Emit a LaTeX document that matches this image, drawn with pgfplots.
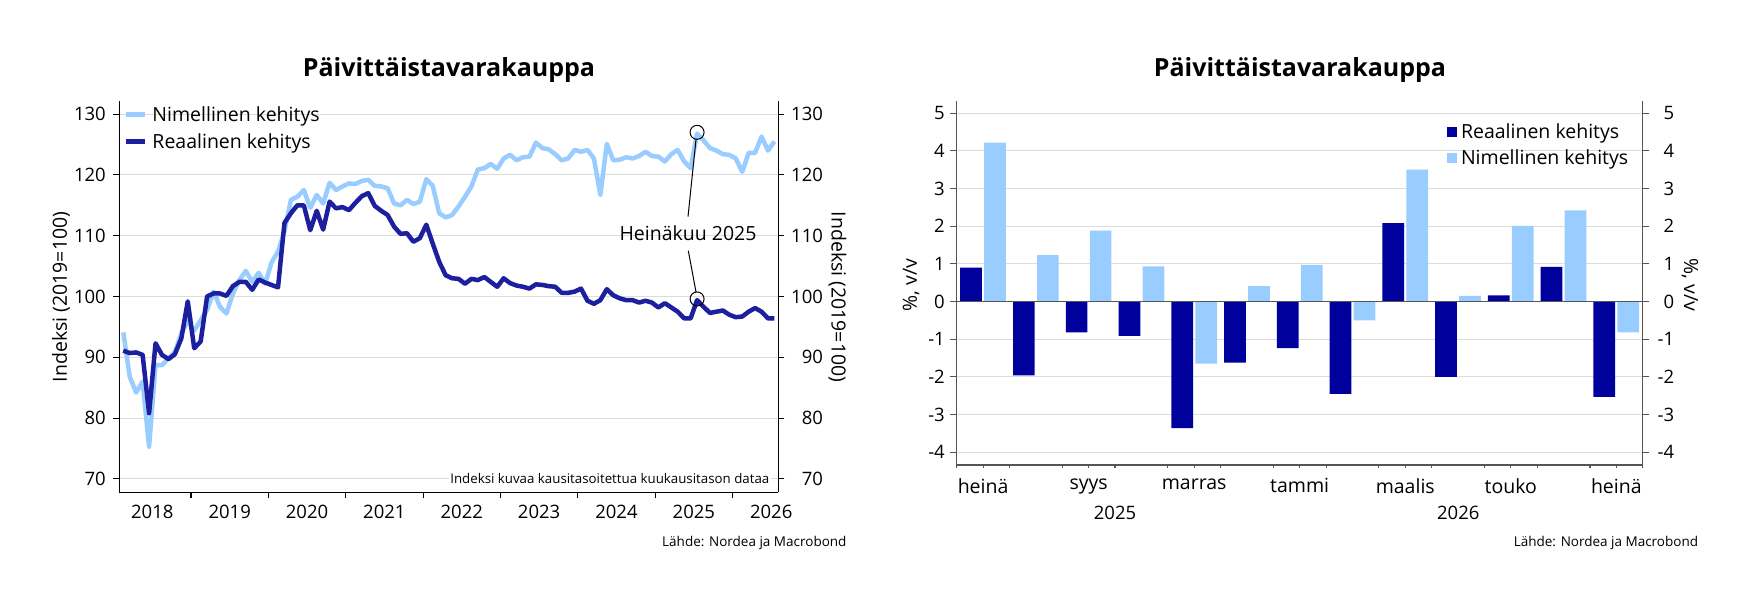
\documentclass[border=0pt]{standalone}
\usepackage{fontspec}
\setmainfont{Open Sans}
\usepackage{pgfplots}
\pgfplotsset{compat=1.18}
\usepackage{pgfplotstable}
\definecolor{nomblue}{HTML}{99CCFF}
\definecolor{realline}{HTML}{1C209E}
\definecolor{realbar}{HTML}{00009C}
\definecolor{gridgray}{HTML}{DCDCDC}
\definecolor{axisgray}{HTML}{555555}
\newcommand\tf{\fontsize{18.5bp}{22bp}\selectfont}
\newcommand\lf{\fontsize{19.5bp}{23bp}\selectfont}
\newcommand\srcf{\fontsize{13.5bp}{16bp}\selectfont}

\pgfplotstableread{
k nom real
0 94.1 91.1
1 86.8 90.7
2 84.2 90.8
3 86.0 90.4
4 75.3 80.8
5 88.7 92.3
6 88.7 90.4
7 89.8 89.7
8 90.9 90.5
9 93.9 93.1
10 96.0 99.2
11 94.4 91.5
12 96.1 92.6
13 97.8 100.0
14 100.8 100.5
15 98.3 100.5
16 97.2 100.1
17 100.5 101.7
18 102.7 102.4
19 104.2 102.4
20 102.4 101.1
21 103.9 102.8
22 102.1 102.3
23 105.6 101.9
24 107.4 101.5
25 110.7 112.1
26 115.9 113.7
27 116.4 115.0
28 117.5 115.0
29 114.6 110.9
30 116.7 114.1
31 115.3 111.0
32 118.7 115.6
33 117.5 114.5
34 118.1 114.7
35 118.6 114.2
36 118.5 115.4
37 119.0 116.5
38 119.2 117.0
39 118.2 114.9
40 118.1 114.1
41 117.8 113.4
42 115.3 111.5
43 115.0 110.3
44 115.9 110.4
45 115.2 109.0
46 115.6 109.6
47 119.3 111.8
48 118.2 108.7
49 113.7 105.7
50 113.0 103.5
51 113.4 103.0
52 114.8 102.9
53 116.4 102.1
54 118.1 102.9
55 120.9 102.7
56 121.1 103.2
57 121.8 102.4
58 121.0 101.6
59 122.7 103.0
60 123.3 102.2
61 122.4 101.8
62 122.9 101.6
63 123.0 101.3
64 125.3 102.0
65 124.4 101.9
66 124.2 101.7
67 123.4 101.6
68 122.4 100.6
69 122.7 100.6
70 124.1 100.8
71 123.8 101.3
72 124.1 99.3
73 122.7 98.8
74 116.7 99.4
75 125.1 101.2
76 122.4 100.2
77 122.5 99.7
78 122.9 99.4
79 122.7 99.4
80 123.1 99.0
81 123.8 99.3
82 123.1 99.0
83 123.0 98.2
84 122.2 98.9
85 123.4 98.2
86 124.1 97.5
87 122.2 96.4
88 121.1 96.4
89 126.8 99.4
90 125.7 98.3
91 124.4 97.3
92 124.0 97.5
93 123.4 97.7
94 123.3 97.0
95 122.7 96.6
96 120.5 96.7
97 123.6 97.5
98 123.6 98.1
99 126.3 97.5
100 124.0 96.4
101 125.5 96.4
}\levels

\pgfplotstableread{
m real nom
0.5 0.90 4.22
1.5 -1.96 1.24
2.5 -0.82 1.88
3.5 -0.91 0.93
4.5 -3.36 -1.65
5.5 -1.62 0.41
6.5 -1.24 0.97
7.5 -2.45 -0.50
8.5 2.08 3.50
9.5 -2.00 0.15
10.5 0.16 2.01
11.5 0.92 2.42
12.5 -2.53 -0.82
}\bars

\begin{document}
\begin{tikzpicture}
\useasboundingbox (0,0) rectangle (1738bp,595bp);

% ---------------- left chart ----------------
\begin{axis}[
  at={(119.3bp,102.7bp)}, anchor=south west, scale only axis,
  width=659bp, height=391.6bp,
  xmin=-0.62, xmax=101.6, ymin=67.8, ymax=132.2,
  axis x line*=bottom, axis y line*=left,
  axis line style={-, black, line width=1.1bp},
  tick align=outside, major tick length=6bp,
  tick style={black, line width=1.1bp},
  ytick={70,80,...,130},
  ymajorgrids, major grid style={gridgray, line width=1bp},
  xtick={10.5,22.5,...,94.5}, xticklabels={},
  extra x ticks={4.5,16.5,...,100.5},
  extra x tick labels={2018,2019,2020,2021,2022,2023,2024,2025,2026},
  extra x tick style={major tick length=0pt},
  xticklabel style={anchor=north, inner sep=0pt, yshift=-12.7bp},
  yticklabel style={anchor=east, inner sep=0pt, xshift=-7.3bp},
  ticklabel style={font=\tf},
  /pgf/number format/assume math mode=true,
  legend style={at={(0.0071,0.985)}, anchor=north west, draw=none, fill=none,
    inner sep=0pt, outer sep=0pt, font=\lf, row sep=10.5bp,
    nodes={inner sep=0pt},
    /tikz/every odd column/.append style={column sep=5bp}},
  legend cell align=left,
  legend image code/.code={\draw[#1, line width=4.5bp] (0bp,0bp) -- (19bp,0bp);},
  clip=false,
]
\addplot[nomblue, line width=4.5bp, line join=round] table[x=k, y=nom] {\levels};
\addlegendentry{Nimellinen kehitys}
\addplot[realline, line width=4.5bp, line join=round] table[x=k, y=real] {\levels};
\addlegendentry{Reaalinen kehitys}
\addplot[forget plot, only marks, mark=o, mark size=7bp, mark options={black, line width=1bp}]
  coordinates {(89,127.0) (89,99.6)};
\end{axis}

\begin{axis}[
  at={(119.3bp,102.7bp)}, anchor=south west, scale only axis,
  width=659bp, height=391.6bp,
  xmin=0, xmax=1, ymin=67.8, ymax=132.2,
  axis x line=none, axis y line*=right,
  axis line style={-, black, line width=1.1bp},
  tick align=outside, major tick length=6bp,
  tick style={black, line width=1.1bp},
  ytick={70,80,...,130},
  yticklabel style={anchor=west, inner sep=0pt, xshift=6.4bp, text width=32bp, align=right},
  ticklabel style={font=\tf},
  /pgf/number format/assume math mode=true,
]
\end{axis}

% annotation and texts, left
\draw[black, line width=1bp] (696bp,455.5bp) -- (688bp,378.3bp);
\draw[black, line width=1bp] (688.3bp,344.3bp) -- (696bp,303bp);
\node[font=\lf, inner sep=0pt] at (688bp,362bp) {Heinäkuu 2025};
\node[font=\fontsize{13.3bp}{15bp}\selectfont, fill=white, inner sep=1.5bp, anchor=east] at (771bp,116.5bp) {Indeksi kuvaa kausitasoitettua kuukausitason dataa};
\node[font=\fontsize{25bp}{29bp}\selectfont\bfseries] at (449bp,525bp) {Päivittäistavarakauppa};
\node[font=\lf, rotate=90] at (61bp,298bp) {Indeksi (2019=100)};
\node[font=\lf, rotate=-90] at (837.5bp,298bp) {Indeksi (2019=100)};
\node[font=\srcf, anchor=east, inner sep=0pt] at (846.7bp,52bp) {Lähde: Nordea ja Macrobond};

% ---------------- right chart ----------------
\begin{axis}[
  at={(956.7bp,130bp)}, anchor=south west, scale only axis,
  width=686bp, height=364.3bp,
  xmin=0, xmax=13, ymin=-4.34, ymax=5.33,
  axis x line*=bottom, axis y line*=left,
  axis line style={-, axisgray, line width=1.3bp},
  tick align=outside, major tick length=6.7bp,
  tick style={axisgray, line width=1.1bp},
  ytick={-4,-3,...,5},
  ymajorgrids, major grid style={gridgray, line width=1bp},
  xtick={0,1,...,13}, xticklabels={},
  xtick style={/pgfplots/major tick length=3bp},
  extra x ticks={0.5,2.5,...,12.5},
  extra x tick labels={heinä,syys,marras,tammi,maalis,touko,heinä},
  extra x tick style={major tick length=0pt, xticklabel style={font=\lf}},
  xticklabel style={anchor=north, inner sep=0pt, yshift=-13.3bp},
  yticklabel style={anchor=east, inner sep=0pt, xshift=-5bp},
  ticklabel style={font=\tf},
  /pgf/number format/assume math mode=true,
  legend style={at={(0.714,0.936)}, anchor=north west, draw=none, fill=none,
    inner sep=0pt, outer sep=0pt, font=\lf, row sep=9.8bp,
    nodes={inner sep=0pt},
    /tikz/every odd column/.append style={column sep=4.5bp}},
  legend cell align=left,
  clip=false,
]
\addplot[ybar, bar width=21.7bp, bar shift=-12bp, fill=realbar, draw=none,
  legend image code/.code={\fill[realbar] (0bp,-5bp) rectangle (10bp,5bp);}]
  table[x=m, y=real] {\bars};
\addlegendentry{Reaalinen kehitys}
\addplot[ybar, bar width=21.7bp, bar shift=12bp, fill=nomblue, draw=none,
  legend image code/.code={\fill[nomblue] (0bp,-5bp) rectangle (10bp,5bp);}]
  table[x=m, y=nom] {\bars};
\addlegendentry{Nimellinen kehitys}
\draw[axisgray, line width=1.5bp] (axis cs:0,0) -- (axis cs:13,0);
\end{axis}

\begin{axis}[
  at={(956.7bp,130bp)}, anchor=south west, scale only axis,
  width=686bp, height=364.3bp,
  xmin=0, xmax=1, ymin=-4.34, ymax=5.33,
  axis x line=none, axis y line*=right,
  axis line style={-, axisgray, line width=1.3bp},
  tick align=outside, major tick length=6.7bp,
  tick style={axisgray, line width=1.1bp},
  ytick={-4,-3,...,5},
  yticklabel style={anchor=west, inner sep=0pt, xshift=4.6bp, text width=20bp, align=right},
  ticklabel style={font=\tf},
  /pgf/number format/assume math mode=true,
]
\end{axis}

\node[font=\fontsize{25bp}{29bp}\selectfont\bfseries] at (1300bp,525bp) {Päivittäistavarakauppa};
\node[font=\tf, inner sep=0pt] at (1115bp,82bp) {2025};
\node[font=\tf, inner sep=0pt] at (1458.3bp,82bp) {2026};
\node[font=\lf, rotate=90] at (911bp,310bp) {\%, v/v};
\node[font=\lf, rotate=-90] at (1690bp,310bp) {\%, v/v};
\node[font=\srcf, anchor=east, inner sep=0pt] at (1698.3bp,52bp) {Lähde: Nordea ja Macrobond};
\end{tikzpicture}
\end{document}
